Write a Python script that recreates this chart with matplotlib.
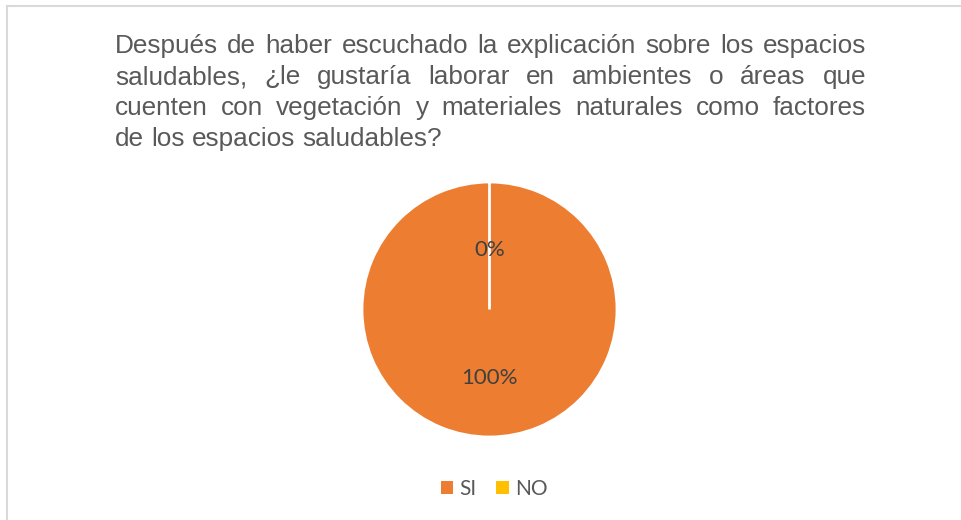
import matplotlib
matplotlib.use("Agg")
import matplotlib.pyplot as plt
from matplotlib.patches import Patch
from matplotlib.lines import Line2D

# data
categories = ["SI", "NO"]
values = [100, 0]
colors = ["#ED7D31", "#FFC000"]

title_lines = [
    "Después de haber escuchado la explicación sobre los espacios",
    "saludables, ¿le gustaría laborar en ambientes o áreas que",
    "cuenten con vegetación y materiales naturales como factores",
    "de los espacios saludables?",
]

W, H = 962, 520
fig = plt.figure(figsize=(W / 100, H / 100), dpi=100)
fig.patch.set_facecolor("white")

# chart border (only top and left visible in the crop)
fig.add_artist(Line2D([6.5 / W, 1.0], [1 - 6 / H, 1 - 6 / H], color="#D9D9D9", lw=1.5))
fig.add_artist(Line2D([6.5 / W, 6.5 / W], [1 - 6 / H, 0.0], color="#D9D9D9", lw=1.5))

# justified title
title_font = dict(family="Liberation Sans", size=18.8, color="#595959")
renderer = fig.canvas.get_renderer()


def text_width(s):
    t = fig.text(0, 0, s, **title_font)
    w = t.get_window_extent(renderer).width
    t.remove()
    return w


x_left, x_right = 115, 866
baselines = [53, 84, 115, 146]
space_w = text_width("x x") - text_width("xx")

for i, line in enumerate(title_lines):
    words = line.split(" ")
    widths = [text_width(w) for w in words]
    if i < len(title_lines) - 1:
        gap = (x_right - x_left - sum(widths)) / (len(words) - 1)
    else:
        gap = space_w
    x = x_left
    for w, wd in zip(words, widths):
        fig.text(x / W, 1 - baselines[i] / H, w, ha="left", va="baseline", **title_font)
        x += wd + gap

# pie
cx, cy, r = 489.5, 309.5, 127.5
ax = fig.add_axes([(cx - r) / W, (H - cy - r) / H, 2 * r / W, 2 * r / H])
wedges, texts, autotexts = ax.pie(
    values,
    colors=colors,
    startangle=90,
    counterclock=False,
    autopct="%1.0f%%",
    pctdistance=0.5,
    radius=1,
    wedgeprops=dict(edgecolor="white", linewidth=2),
    textprops=dict(family="Lato", size=16, color="#404040"),
)
# nudge the percentage labels down a little, like the original
for t in autotexts:
    t.set_y(t.get_position()[1] - 0.035)
ax.set_xlim(-1, 1)
ax.set_ylim(-1, 1)
ax.set_aspect("equal")
ax.axis("off")

# legend
handles = [Patch(facecolor=c, edgecolor="none") for c in colors]
fig.legend(
    handles,
    categories,
    loc="center",
    bbox_to_anchor=(494 / W, 1 - 489 / H),
    ncol=2,
    frameon=False,
    prop=dict(family="Lato", size=15),
    labelcolor="#595959",
    handlelength=0.62,
    handleheight=0.62,
    handletextpad=0.3,
    columnspacing=0.9,
)

fig.savefig("out.png", dpi=100)
